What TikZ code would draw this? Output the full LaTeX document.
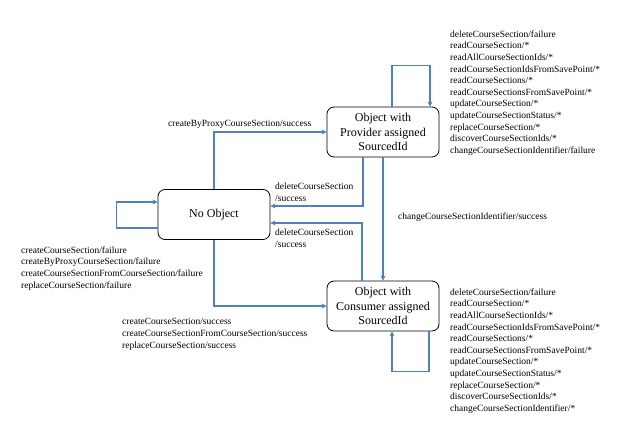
\documentclass[tikz,border=0pt]{standalone}
\usepackage{fontspec}
\setmainfont{Liberation Serif}
\usetikzlibrary{arrows.meta}
\definecolor{linkblue}{RGB}{79,129,189}
\begin{document}
\begin{tikzpicture}[x=1pt,y=-1pt,
	trans/.style={draw=linkblue,line width=1.3pt,-{Stealth[length=5pt,width=5pt]}},
	lbl/.style={font=\fontsize{9.5}{11.6}\selectfont,align=left,inner sep=0pt}]
			\useasboundingbox (0,0) rectangle (624,429);
			\begin{scope}[every node/.style={draw,rounded corners=7pt,thick,fill=white,
				minimum width=112pt,minimum height=50pt,align=center,
				font=\fontsize{12}{14.5}\selectfont}]
			\node (none) at (214,214.5) {No Object};
			\node (prov) at (383,132) {Object with\\Provider assigned\\SourcedId};
			\node (cons) at (383,306) {Object with\\Consumer assigned\\SourcedId};
			\end{scope}
			
			\draw[trans] (none.north) |- (prov.west);
			\draw[trans] ([xshift=-20pt]prov.south) |- ([yshift=8.5pt]none.east);
			\draw[trans] ([xshift=-21pt]cons.north) |- ([yshift=-8.5pt]none.east);
			\draw[trans] (prov) -- (cons);
			\draw[trans] (none.south) |- (cons.west);
			\draw[trans] ([yshift=-13.5pt]none.west) -- ++(-41,0) |- ([yshift=12.5pt]none.west);
			\draw[trans] ([xshift=9pt]prov.north) -- ++(0,-41) -| ([xshift=47pt]prov.north);
			\draw[trans] ([xshift=46pt]cons.south) -- ++(0,40) -| ([xshift=9pt]cons.south);
			
			\node[lbl,anchor=west] (proxy) at (168,124) {createByProxyCourseSection/success};
			\node[lbl,anchor=north west] (delprov) at (275,183) {deleteCourseSection\\/success};
			\node[lbl,anchor=north west] (delcons) at (275,229) {deleteCourseSection\\/success};
			\node[lbl,anchor=west] (change) at (398,217) {changeCourseSectionIdentifier/success};
			\node[lbl,anchor=north west] (fail) at (21,246.5) {createCourseSection/failure\\createByProxyCourseSection/failure\\createCourseSectionFromCourseSection/failure\\replaceCourseSection/failure};
			\node[lbl,anchor=north west] (create) at (122,318.5) {createCourseSection/success\\createCourseSectionFromCourseSection/success\\replaceCourseSection/success};
			\node[lbl,anchor=north west] (provops) at (450,30.5) {deleteCourseSection/failure\\readCourseSection/*\\readAllCourseSectionIds/*\\readCourseSectionIdsFromSavePoint/*\\readCourseSections/*\\readCourseSectionsFromSavePoint/*\\updateCourseSection/*\\updateCourseSectionStatus/*\\replaceCourseSection/*\\discoverCourseSectionIds/*\\changeCourseSectionIdentifier/failure};
			\node[lbl,anchor=north west] (consops) at (450,288.5) {deleteCourseSection/failure\\readCourseSection/*\\readAllCourseSectionIds/*\\readCourseSectionIdsFromSavePoint/*\\readCourseSections/*\\readCourseSectionsFromSavePoint/*\\updateCourseSection/*\\updateCourseSectionStatus/*\\replaceCourseSection/*\\discoverCourseSectionIds/*\\changeCourseSectionIdentifier/*};
\end{tikzpicture}
\end{document}
